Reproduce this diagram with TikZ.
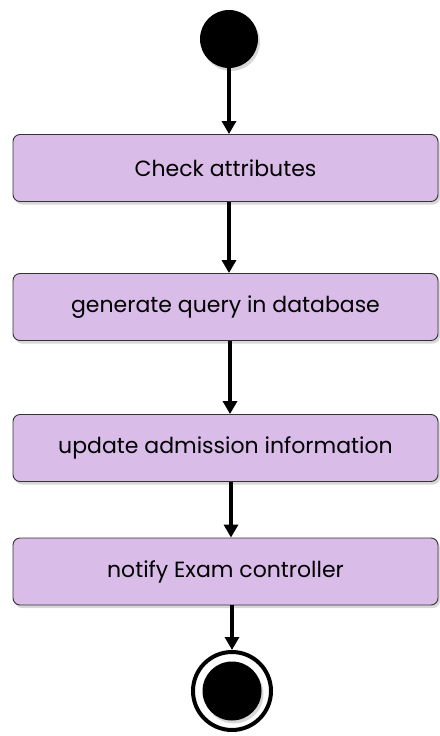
\documentclass[tikz,border=0pt]{standalone}
\usepackage{fontspec}
\setmainfont{Poppins}
\usetikzlibrary{arrows.meta,shadows}
\definecolor{actfill}{RGB}{217,188,232}
\begin{document}
\begin{tikzpicture}[x=1pt,y=1pt,
  activity/.style={draw=black!80,line width=0.9pt,rounded corners=7pt,fill=actfill,
    minimum width=425pt,minimum height=67pt,font=\fontsize{22}{26}\selectfont,
    drop shadow={shadow xshift=2pt,shadow yshift=-3pt,opacity=0.3}},
  flow/.style={line width=3.8pt,-{Triangle[width=14pt,length=13pt]}}]
\useasboundingbox[fill=white] (0,0) rectangle (439,-736);
% initial node
\node[circle,fill=black,minimum size=58pt,inner sep=0pt,
  drop shadow={shadow xshift=2pt,shadow yshift=-3pt,opacity=0.3}] (start) at (229,-39) {};
% activities
\node[activity] (check) at (225.5,-168) {Check attributes};
\node[activity] (query) at (225.5,-307) {generate query in database};
\node[activity] (update) at (225.5,-448) {update admission information};
\node[activity] (notify) at (225.5,-571.5) {notify Exam controller};
% final node
\node[circle,draw=black,line width=4pt,fill=white,minimum size=78pt,inner sep=0pt] (final) at (232,-691) {};
\node[circle,fill=black,minimum size=59pt,inner sep=0pt,
  drop shadow={shadow xshift=2pt,shadow yshift=-3pt,opacity=0.3}] (finaldot) at (final) {};
% flows
\draw[flow] (start) -- (start |- check.north);
\draw[flow] ([xshift=3.5pt]check.south) -- ([xshift=3.5pt]query.north);
\draw[flow] ([xshift=4.5pt]query.south) -- ([xshift=4.5pt]update.north);
\draw[flow] ([xshift=5.5pt]update.south) -- ([xshift=5.5pt]notify.north);
\draw[flow] (notify.south -| final) -- (final.north);
\end{tikzpicture}
\end{document}
